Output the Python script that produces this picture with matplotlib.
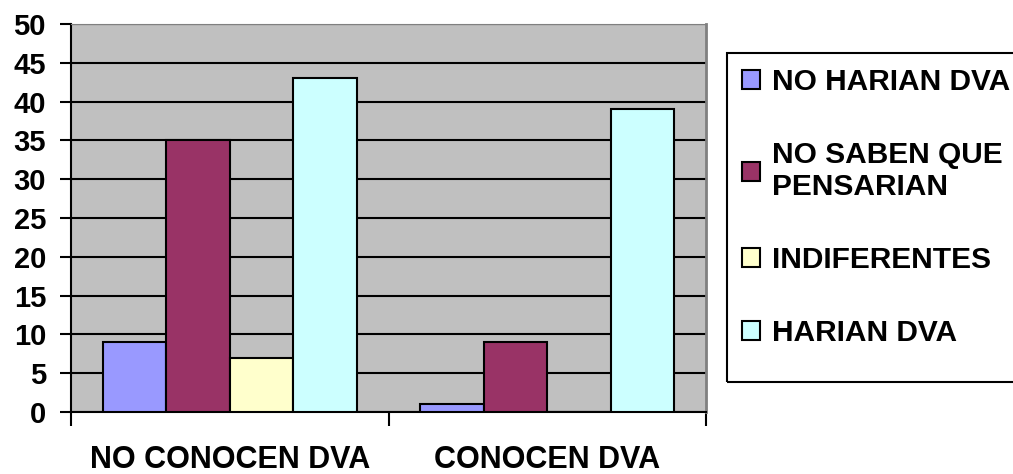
import numpy as np
from matplotlib import pyplot as plt
from matplotlib.patches import Rectangle

plt.rcParams['font.family'] = ['Liberation Sans', 'DejaVu Sans']
plt.rcParams['font.weight'] = 'bold'

groups = ["NO CONOCEN DVA", "CONOCEN DVA"]
series = ["NO HARIAN DVA", "NO SABEN QUE\nPENSARIAN", "INDIFERENTES", "HARIAN DVA"]
values = [
    [9, 1],
    [35, 9],
    [7, 0],
    [43, 39],
]
colors = ["#9999FF", "#993366", "#FFFFCC", "#CCFFFF"]

fig = plt.figure(figsize=(10.13, 4.74), dpi=100)
ax = fig.add_axes([71/1013, 62/474, 635/1013, 388/474])
ax.set_facecolor("#C0C0C0")

x = np.arange(len(groups))
w = 0.2
for i, (name, vals, c) in enumerate(zip(series, values, colors)):
    ax.bar(x + (i - 1.5) * w, vals, w, color=c, edgecolor="black",
           linewidth=1.5, label=name, zorder=3)

ax.set_xlim(-0.5, 1.5)
ax.set_ylim(0, 50)
ax.set_yticks(np.arange(0, 51, 5))
ax.yaxis.grid(True, color="black", linewidth=1.5, zorder=1)
ax.set_axisbelow(True)

ax.set_xticks([-0.5, 0.5, 1.5])
ax.set_xticklabels([])
ax.set_xticks(x, minor=True)
ax.set_xticklabels(groups, minor=True, fontsize=22, fontweight='bold')
ax.tick_params(axis='x', which='major', length=10, width=1.5, direction='out')
ax.tick_params(axis='x', which='minor', length=0, pad=24)
ax.tick_params(axis='y', length=8, width=1.5, labelsize=21, pad=10)
for lab in ax.get_yticklabels():
    lab.set_fontweight('bold')

ax.spines['left'].set_linewidth(1.5)
ax.spines['bottom'].set_linewidth(1.5)
ax.spines['top'].set_color("#808080")
ax.spines['right'].set_color("#808080")
ax.spines['right'].set_linewidth(2)

# legend box (drawn separately so it can be as tall as in the original)
fig.patches.append(Rectangle((727/1013, 1 - 382/474), 300/1013, 329/474,
                             transform=fig.transFigure, fill=False,
                             edgecolor="black", linewidth=1.5))
leg = fig.legend(loc="upper left", bbox_to_anchor=(727/1013, 1 - 53/474),
                 fontsize=21.5, frameon=False,
                 handlelength=0.6, handleheight=0.6, handletextpad=0.4,
                 labelspacing=1.5, borderpad=0.5, borderaxespad=0)
for t in leg.get_texts():
    t.set_fontweight('bold')

plt.savefig("out.png", dpi=100)
